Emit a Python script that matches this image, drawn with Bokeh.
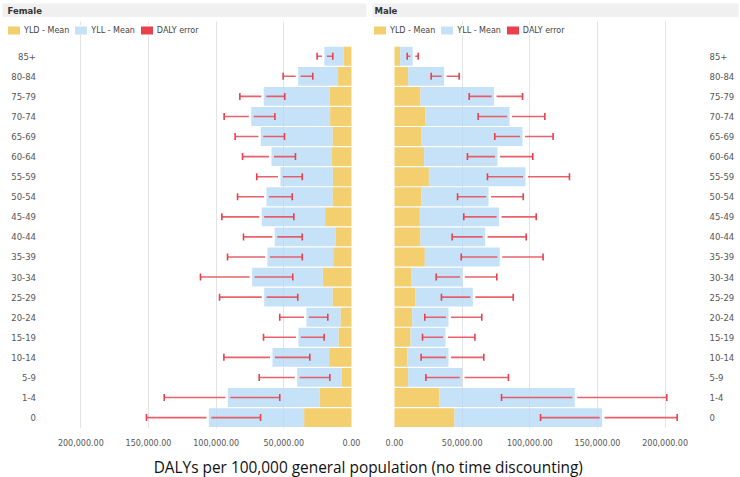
from bokeh.plotting import figure
from bokeh.models import (ColumnDataSource, Range1d, FixedTicker,
                          NumeralTickFormatter, Legend, LegendItem)
from bokeh.layouts import column, row
from bokeh.embed import file_html
from bokeh.resources import INLINE
from bokeh.core.properties import value

# ---------------- data (bottom row first) ----------------
age_groups = ["0", "1-4", "5-9", "10-14", "15-19", "20-24", "25-29", "30-34",
              "35-39", "40-44", "45-49", "50-54", "55-59", "60-64", "65-69",
              "70-74", "75-79", "80-84", "85+"]

female_yld = [35000, 23400, 7400, 16500, 9600, 8100, 14000, 21200, 13500, 11800,
              19500, 14000, 13800, 14800, 14000, 15800, 16000, 9900, 5700]
female_yll = [70400, 68000, 32700, 41900, 29600, 25200, 50500, 52200, 48600, 44900,
              46800, 48800, 38700, 44300, 53000, 58300, 48800, 29500, 14300]
female_err_low = [67200, 53000, 16000, 30800, 20200, 17500, 39700, 43400, 36400, 36400,
                  42600, 43800, 36400, 41400, 49500, 56600, 49300, 28600, 13800]
female_err_high = [151500, 138400, 68200, 94300, 65000, 53000, 97500, 111600, 91600, 79800,
                   95800, 84200, 70000, 80500, 86000, 94100, 82500, 50500, 25400]

male_yld = [44300, 33000, 10100, 9400, 11800, 13100, 15300, 12600, 22400, 19200,
            18700, 19700, 25400, 21900, 20000, 22900, 19200, 10100, 4200]
male_yll = [109100, 100200, 39900, 30500, 25900, 26800, 42600, 37600, 55400, 47800,
            58600, 49800, 71400, 54200, 74600, 62100, 54400, 26600, 9300]
male_err_low = [107900, 79100, 23200, 19700, 20700, 22400, 34700, 30800, 49300, 42600,
                51200, 46600, 68700, 53900, 74100, 61800, 55200, 27100, 9400]
male_err_high = [208900, 201200, 84200, 66000, 59400, 64500, 87700, 75600, 109800, 97300,
                 104700, 95100, 129300, 102200, 117200, 111100, 94600, 47800, 17500]

x_ticks = [0, 50000, 100000, 150000, 200000]
grid_ticks = [50000, 100000, 150000, 200000]
legend_labels = ["YLD - Mean", "YLL - Mean", "DALY error"]
x_title = "DALYs per 100,000 general population (no time discounting)"

# ---------------- styles ----------------
GOLD = "#F3CF70"
BLUE = "#B8DBF6"
RED = "#E8414D"
ERR = "#E5505B"
FONT = "DejaVu Sans"
GAP = 1800  # gap in the error line around the mean total


def header(title, width, bl, br, off):
    h = figure(width=width, height=17, x_range=Range1d(0, 1), y_range=Range1d(0, 1),
               x_axis_location=None, y_axis_location=None, toolbar_location=None,
               output_backend="svg", min_border_left=bl, min_border_right=br,
               min_border_top=3, min_border_bottom=0)
    h.background_fill_color = "#F0F0F0"
    h.border_fill_color = "white"
    h.outline_line_color = None
    h.grid.visible = False
    h.text(x=[0], y=[0.5], text=[title], x_offset=off, text_baseline="middle",
           text_font=value(FONT), text_font_style="bold", text_font_size="8.5px",
           text_color="#333333")
    return h


def panel(yld, yll, lo, hi, x_start, x_end, label_x, label_align, width, bl, br,
          legend_x):
    pos = list(range(len(age_groups)))
    total = [a + b for a, b in zip(yld, yll)]
    src = ColumnDataSource(dict(
        age=age_groups, pos=pos, yld=yld, yll=yll, total=total, lo=lo, hi=hi,
        in_lo=[t - GAP for t in total], in_hi=[t + GAP for t in total]))
    caps = ColumnDataSource(dict(x=lo + hi, pos=pos + pos))

    p = figure(width=width, height=431, y_range=Range1d(-0.544, 19.731),
               x_range=Range1d(x_start, x_end), y_axis_location=None,
               toolbar_location=None, output_backend="svg", title=None,
               min_border_left=bl, min_border_right=br,
               min_border_top=4, min_border_bottom=17)
    p.outline_line_color = None
    p.ygrid.visible = False
    p.xgrid.ticker = FixedTicker(ticks=grid_ticks)
    p.xgrid.grid_line_color = "#E3E3E3"

    ax = p.xaxis[0]
    ax.ticker = FixedTicker(ticks=x_ticks)
    ax.formatter = NumeralTickFormatter(format="0,0.00")
    ax.axis_line_color = None
    ax.major_tick_line_color = None
    ax.minor_tick_line_color = None
    ax.major_label_standoff = 4
    ax.major_label_text_font = FONT
    ax.major_label_text_font_size = "8px"
    ax.major_label_text_color = "#555555"

    bars = p.hbar_stack(["yld", "yll"], y="pos", height=0.94, source=src,
                        fill_color=[GOLD, BLUE], fill_alpha=[1.0, 0.8],
                        line_color=None)

    p.segment(x0="lo", x1="in_lo", y0="pos", y1="pos", source=src,
              line_color=ERR, line_width=1.6, line_alpha=0.9)
    p.segment(x0="in_hi", x1="hi", y0="pos", y1="pos", source=src,
              line_color=ERR, line_width=1.6, line_alpha=0.9)
    cap_r = p.rect(x="x", y="pos", width=1.6, height=7, width_units="screen",
                   height_units="screen", source=caps, fill_color=RED,
                   line_color=None)

    p.text(x=label_x, y="pos", text="age", source=src, text_align=label_align,
           text_baseline="middle", text_font=value(FONT), text_font_size="8.5px",
           text_color="#555555")

    legend = Legend(items=[LegendItem(label=legend_labels[0], renderers=[bars[0]]),
                           LegendItem(label=legend_labels[1], renderers=[bars[1]]),
                           LegendItem(label=legend_labels[2], renderers=[cap_r])],
                    orientation="horizontal", location=(legend_x, 393),
                    glyph_width=15, glyph_height=10, label_height=10,
                    label_standoff=3, spacing=4, padding=1, margin=0,
                    border_line_color=None, background_fill_color="white",
                    background_fill_alpha=1.0,
                    label_text_font=FONT, label_text_font_size="8px",
                    label_text_color="#444444")
    p.add_layout(legend, "center")
    return p


hf = header("Female", 369, 2, 3, 5)
hm = header("Male", 371, 3, 2, 2)

# female: reversed axis, 0 at x=351; frame spans x=2..366
pf = panel(female_yld, female_yll, female_err_low, female_err_high,
           257900, -11100, 233150, "right", 369, 2, 3, 4)
# male: 0 at x=394; frame spans x=372..738
pm = panel(male_yld, male_yll, male_err_low, male_err_high,
           -16250, 254200, 232800, "left", 371, 3, 2, 0)

foot = figure(width=740, height=29, x_range=Range1d(0, 1), y_range=Range1d(0, 1),
              x_axis_location=None, y_axis_location=None, toolbar_location=None,
              output_backend="svg", min_border=0)
foot.outline_line_color = None
foot.grid.visible = False
foot.text(x=[0.497], y=[0.5], text=[x_title], y_offset=4, text_align="center",
          text_baseline="middle", text_font=value("Open Sans"),
          text_font_size="15.4px", text_color="#111111")

layout = column(row(hf, hm), row(pf, pm), foot)

open("out.html", "w").write(file_html(layout, INLINE))
